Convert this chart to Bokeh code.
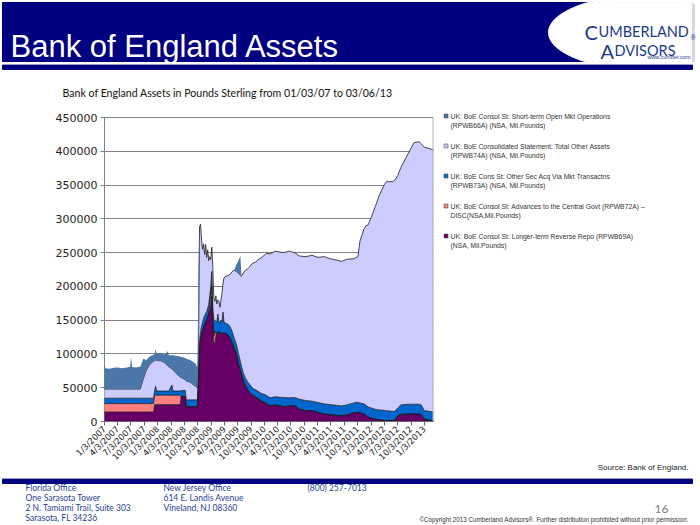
import math
import numpy as np
import pandas as pd
from bokeh.plotting import figure
from bokeh.layouts import column, row
from bokeh.models import ColumnDataSource, FixedTicker, BasicTickFormatter, Range1d
from bokeh.core.properties import value
from bokeh.embed import file_html
from bokeh.resources import INLINE

# ---------------- data (GBP millions) ----------------
dates = [
    "2007-01-03", "2007-01-10", "2007-02-07", "2007-03-07", "2007-04-04", "2007-05-02",
    "2007-06-06", "2007-06-27", "2007-07-04", "2007-07-11", "2007-08-08", "2007-09-05",
    "2007-09-26", "2007-10-17", "2007-11-07", "2007-11-28", "2007-12-05", "2007-12-12",
    "2007-12-19", "2007-12-27", "2008-01-23", "2008-02-20", "2008-03-12", "2008-03-19",
    "2008-04-09", "2008-04-16", "2008-05-14", "2008-06-04", "2008-06-11", "2008-07-09",
    "2008-07-16", "2008-08-13", "2008-09-17", "2008-10-01", "2008-10-08", "2008-10-15",
    "2008-10-22", "2008-10-29", "2008-11-05", "2008-11-12", "2008-11-19", "2008-11-26",
    "2008-12-03", "2008-12-10", "2008-12-17", "2008-12-24", "2008-12-31", "2009-01-07",
    "2009-01-14", "2009-01-21", "2009-01-28", "2009-02-04", "2009-02-11", "2009-02-18",
    "2009-02-25", "2009-03-04", "2009-03-11", "2009-03-18", "2009-03-25", "2009-04-01",
    "2009-04-15", "2009-04-29", "2009-05-13", "2009-05-27", "2009-06-10", "2009-06-24",
    "2009-07-08", "2009-07-22", "2009-07-29", "2009-08-12", "2009-08-26", "2009-09-09",
    "2009-09-23", "2009-10-07", "2009-10-21", "2009-11-04", "2009-11-18", "2009-12-02",
    "2009-12-16", "2010-01-06", "2010-01-20", "2010-02-10", "2010-03-17", "2010-05-12",
    "2010-06-23", "2010-07-28", "2010-09-01", "2010-10-13", "2010-11-24", "2011-01-05",
    "2011-02-16", "2011-03-30", "2011-05-11", "2011-06-15", "2011-07-20", "2011-09-07",
    "2011-10-05", "2011-10-19", "2011-11-16", "2011-11-30", "2011-12-14", "2012-01-04",
    "2012-02-01", "2012-02-29", "2012-04-04", "2012-04-18", "2012-05-30", "2012-06-13",
    "2012-07-04", "2012-07-25", "2012-09-12", "2012-10-24", "2012-11-28", "2012-12-12",
    "2013-01-02", "2013-02-06", "2013-03-06",
]

# UK: BoE Consol St: Longer-term Reverse Repo (RPWB69A)
longer_term_repo = [
    14000, 14000, 14000, 14000, 14000, 14000, 14000, 14000, 14000, 14000, 14000, 14000,
    14000, 14000, 14000, 14000, 14000, 25000, 25000, 25000, 25000, 25000, 25000, 25000,
    25000, 25000, 25000, 25000, 37000, 37000, 22000, 22000, 22000, 22000, 60000, 105000,
    120000, 128000, 134000, 140000, 144000, 147000, 150000, 155000, 160000, 165000, 172000, 185000,
    150000, 118000, 114000, 126000, 132000, 130000, 133000, 132000, 131000, 130000, 130000, 131000,
    130000, 128000, 123000, 117000, 108000, 100000, 86000, 75000, 70000, 60000, 53000, 47000,
    43000, 40000, 38000, 36000, 34000, 32000, 30000, 28000, 26000, 23000, 24500, 22000,
    23000, 23500, 18000, 16000, 16000, 13500, 11000, 10000, 9000, 8500, 9500, 13000,
    13500, 13000, 11000, 9000, 6500, 5000, 3500, 2500, 1500, 1000, 1500, 2000,
    8000, 10500, 11000, 11000, 11000, 10000, 3500, 2000, 1000,
]

# UK: BoE Consol St: Advances to the Central Govt (RPWB72A)
advances_govt = [
    12500, 12500, 12500, 12500, 12500, 12500, 12500, 12500, 12500, 12500, 12500, 12500,
    12500, 12500, 12500, 12500, 12500, 14000, 14000, 14000, 14000, 14000, 14000, 14000,
    14000, 14000, 14000, 14000, 0, 0, 0, 0, 0, 0, 0, 0,
    0, 0, 0, 0, 0, 0, 0, 0, 0, 8000, 14000, 15000,
    0, 8000, 20000, 4000, 0, 0, 0, 0, 0, 0, 0, 0,
    0, 0, 0, 0, 0, 0, 0, 0, 0, 0, 0, 0,
    0, 0, 0, 0, 0, 0, 0, 0, 0, 0, 0, 0,
    0, 0, 0, 0, 0, 0, 0, 0, 0, 0, 0, 0,
    0, 0, 0, 0, 0, 0, 0, 0, 0, 0, 0, 0,
    0, 0, 0, 0, 0, 0, 0, 0, 0,
]

# UK: BoE Cons St: Other Sec Acq Via Mkt Transactns (RPWB73A)
other_securities = [
    8000, 8000, 8000, 8000, 8000, 8000, 8000, 8000, 8000, 8000, 8000, 8000,
    8000, 8000, 8000, 8000, 8000, 6000, 13000, 6000, 6000, 6000, 6000, 6000,
    15000, 6000, 6000, 6000, 9000, 9000, 10000, 10000, 10000, 10000, 10000, 13000,
    12000, 13000, 13000, 13000, 13000, 13000, 13000, 13000, 13000, 13000, 14000, 22000,
    18000, 24000, 16000, 18000, 16000, 29000, 14000, 14000, 19000, 18000, 32000, 16000,
    15000, 16000, 17000, 16000, 15000, 15000, 15000, 14000, 12000, 11000, 11000, 12000,
    12000, 11000, 10000, 11000, 11000, 11000, 11000, 12000, 12000, 12000, 12000, 13500,
    12000, 12000, 15000, 15000, 14000, 14500, 15000, 15000, 15000, 14500, 15000, 14500,
    15000, 14500, 15000, 15000, 15000, 15000, 14500, 14500, 15000, 15000, 13500, 13000,
    12000, 14000, 14500, 14500, 14500, 14500, 12500, 13000, 13000,
]

# UK: BoE Consolidated Statement: Total Other Assets (RPWB74A)
total_other_assets = [
    13500, 13500, 13500, 13500, 13500, 13500, 13500, 13500, 13500, 13500, 13500, 13500,
    28500, 41500, 49500, 53500, 54500, 45000, 39000, 45000, 45000, 42000, 37000, 36000,
    24000, 31000, 25000, 21000, 19000, 16000, 28000, 26000, 20000, 18000, 30000, 170000,
    160000, 127000, 108000, 110000, 90000, 102000, 80000, 86000, 65000, 58000, 40000, 36000,
    60000, 33000, 28000, 38000, 26000, 21000, 31000, 23000, 30000, 42000, 43000, 66000,
    70000, 72000, 78000, 89000, 101000, 107000, 119000, 127000, 133000, 149000, 160000, 167000,
    174000, 182000, 187000, 189000, 194000, 198000, 202000, 207000, 211000, 213000, 215500, 214500,
    217000, 214500, 212000, 213000, 216000, 215000, 218000, 216000, 215000, 214000, 215500, 213500,
    215500, 239500, 259000, 266000, 269500, 282000, 300000, 318000, 334500, 339000, 340000, 342000,
    344000, 351500, 370500, 387500, 388500, 386500, 390000, 389000, 388000,
]

# UK: BoE Consol St: Short-term Open Mkt Operations (RPWB66A)
short_term_omo = [
    35500, 31000, 30000, 31500, 32000, 31000, 32000, 33000, 47000, 32500, 32000, 33000,
    30000, 15000, 12000, 10000, 10000, 10000, 16000, 10000, 11000, 12000, 22000, 17000,
    20000, 22000, 27000, 30000, 31000, 32000, 33000, 33000, 34000, 30000, 130000, 0,
    0, 0, 0, 0, 0, 0, 0, 0, 0, 0, 0, 0,
    0, 0, 0, 0, 0, 0, 0, 0, 0, 0, 0, 0,
    0, 0, 0, 0, 0, 10000, 18000, 29000, 0, 0, 0, 0,
    0, 0, 0, 0, 0, 0, 0, 0, 0, 0, 0, 0,
    0, 0, 0, 0, 0, 0, 0, 0, 0, 0, 0, 0,
    0, 0, 0, 0, 0, 0, 0, 0, 0, 0, 0, 0,
    0, 0, 0, 0, 0, 0, 0, 0, 0,
]

series_names = [
    ["UK: BoE Consol St: Short-term Open Mkt Operations", "(RPWB66A) (NSA, Mil.Pounds)"],
    ["UK: BoE Consolidated Statement: Total Other Assets", "(RPWB74A) (NSA, Mil.Pounds)"],
    ["UK: BoE Cons St: Other Sec Acq Via Mkt Transactns", "(RPWB73A) (NSA, Mil.Pounds)"],
    ["UK: BoE Consol St: Advances to the Central Govt (RPWB72A) \u2013", "DISC(NSA,Mil.Pounds)"],
    ["UK: BoE Consol St: Longer-term Reverse Repo (RPWB69A)", "(NSA, Mil.Pounds)"],
]
series_colors = ["#4A76A8", "#CCCCFF", "#0066CC", "#FF8080", "#660066"]

x_tick_labels = [
    "1/3/2007", "4/3/2007", "7/3/2007", "10/3/2007", "1/3/2008", "4/3/2008", "7/3/2008",
    "10/3/2008", "1/3/2009", "4/3/2009", "7/3/2009", "10/3/2009", "1/3/2010", "4/3/2010",
    "7/3/2010", "10/3/2010", "1/3/2011", "4/3/2011", "7/3/2011", "10/3/2011", "1/3/2012",
    "4/3/2012", "7/3/2012", "10/3/2012", "1/3/2013",
]
y_ticks = [0, 50000, 100000, 150000, 200000, 250000, 300000, 350000, 400000, 450000]
Y_MAX = 450000

NAVY = "#000080"
FOOT_FONT = "Lato"

# page geometry (pixels)
ROW_TOP, ROW_H = 100, 375
FRAME_TOP, FRAME_BOTTOM = 109, 475     # chart frame spans this vertically
Y450_PX, Y0_PX = 117, 421              # page y of the 450000 and 0 lines
X0_PX, X1_PX = 104, 433                # page x of the first and last date
START, END = pd.Timestamp("2007-01-03"), pd.Timestamp("2013-03-06")


def blank(w, h, x0, x1, y0, y1, **kw):
    """A figure with no axes whose data units are page pixels (y grows downward)."""
    f = figure(width=w, height=h, output_backend="svg", toolbar_location=None,
               x_range=Range1d(x0, x1), y_range=Range1d(y1, y0),
               x_axis_location=None, y_axis_location=None, **kw)
    f.grid.visible = False
    f.outline_line_color = None
    f.background_fill_color = "white"
    f.border_fill_color = "white"
    return f


def txt(f, x, y, s, size, color, font="Liberation Sans", align="left", baseline="middle", style="normal"):
    f.text(x=[x], y=[y], text=[s], text_font=value(font), text_font_size=value(f"{size}px"),
           text_color=color, text_align=align, text_baseline=baseline, text_font_style=style)


# ---------------- header (page y 0..100) ----------------
hd = blank(700, ROW_TOP, 0, 700, 0, ROW_TOP, min_border=0)
hd.quad(left=[2], right=[692], top=[2], bottom=[61], color=NAVY)
t = np.linspace(0, 2 * np.pi, 160)
hd.patch(list(np.clip(650 + 102 * np.cos(t), 0, 692)), list(np.clip(32 + 38 * np.sin(t), 2, 61)),
         color="white")
hd.quad(left=[692], right=[694], top=[4], bottom=[61], color="#D8D8E0")
hd.quad(left=[2], right=[692], top=[64], bottom=[65], color="#9A9AC8")
hd.quad(left=[2], right=[692], top=[65], bottom=[69], color=NAVY)
txt(hd, 10, 46, "Bank of England Assets", 31, "white", baseline="alphabetic")
logo_c = "#1B3A8A"
txt(hd, 584, 31, "C", 20, logo_c, font="Lato", baseline="alphabetic")
txt(hd, 598, 31, "UMBERLAND", 14.5, logo_c, font="Lato", baseline="alphabetic")
txt(hd, 600, 50, "A", 20, logo_c, font="Lato", baseline="alphabetic")
txt(hd, 614, 50, "DVISORS", 14.5, logo_c, font="Lato", baseline="alphabetic")
txt(hd, 690, 37, "\u00ae", 7, logo_c)
txt(hd, 690, 56, "www.cumber.com", 5.5, logo_c, align="right")
txt(hd, 62, 92, "Bank of England Assets in Pounds Sterling from 01/03/07 to 03/06/13", 10.6, "#111111", font="Lato")

# ---------------- chart (page x 0..440, y 100..475) ----------------
src = ColumnDataSource(dict(
    date=pd.to_datetime(dates),
    ltrr=longer_term_repo, adv=advances_govt, osec=other_securities,
    toa=total_other_assets, omo=short_term_omo,
))

start_ms = START.timestamp() * 1000
end_ms = END.timestamp() * 1000
ms_per_px = (end_ms - start_ms) / (X1_PX - X0_PX)
x_left = start_ms - X0_PX * ms_per_px          # frame starts at page x 0

units_per_px = Y_MAX / (Y0_PX - Y450_PX)
y_top = Y_MAX + (Y450_PX - FRAME_TOP) * units_per_px
y_bottom = -(FRAME_BOTTOM - Y0_PX) * units_per_px

p = figure(width=440, height=ROW_H, x_axis_type="datetime", output_backend="svg",
           toolbar_location=None,
           x_range=Range1d(x_left, end_ms), y_range=Range1d(y_bottom, y_top),
           min_border_left=0, min_border_right=440 - X1_PX,
           min_border_top=FRAME_TOP - ROW_TOP, min_border_bottom=ROW_TOP + ROW_H - FRAME_BOTTOM)
p.background_fill_color = "white"
p.border_fill_color = "white"
p.outline_line_color = None

stackers = ["ltrr", "adv", "osec", "toa", "omo"]
stack_colors = ["#660066", "#FF8080", "#0066CC", "#CCCCFF", "#4A76A8"]
areas = p.varea_stack(stackers, x="date", color=stack_colors, source=src)
lines = p.vline_stack(stackers[:4], x="date", color="#1A1A1A", line_width=0.8, source=src)
border = p.segment(x0=[END], y0=[0], x1=[END], y1=[Y_MAX], line_color="#B0B0B0", line_width=2)
p.renderers = list(areas[:4]) + list(lines) + [areas[4], border]

tick_ms = [int(pd.Timestamp(pd.to_datetime(s, format="%m/%d/%Y")).timestamp() * 1000) for s in x_tick_labels]
xa = p.xaxis[0]
xa.fixed_location = 0
xa.bounds = (start_ms, end_ms)
xa.ticker = FixedTicker(ticks=tick_ms)
xa.major_label_overrides = {ms: lab for ms, lab in zip(tick_ms, x_tick_labels)}
xa.major_label_orientation = math.pi / 4
xa.major_label_text_font = "DejaVu Sans"
xa.major_label_text_font_size = "8.5px"
xa.major_label_text_color = "#222222"
xa.major_tick_in = 0
xa.major_tick_out = 4
xa.minor_tick_line_color = None
xa.axis_line_color = "#666666"
xa.major_tick_line_color = "#666666"
xa.major_label_standoff = 2

# y axis sits at the first date; its inward ticks span the plot as the horizontal gridlines
ya = p.yaxis[0]
ya.fixed_location = start_ms
ya.bounds = (0, Y_MAX)
ya.level = "underlay"
ya.ticker = FixedTicker(ticks=y_ticks)
ya.formatter = BasicTickFormatter(use_scientific=False)
ya.major_label_text_font = "DejaVu Sans"
ya.major_label_text_font_size = "11px"
ya.major_label_text_color = "#222222"
ya.major_tick_in = X1_PX - X0_PX
ya.major_tick_out = 4
ya.minor_tick_line_color = None
ya.axis_line_color = "#808080"
ya.major_tick_line_color = "#808080"
ya.major_label_standoff = 3

p.xgrid.visible = False
p.ygrid.visible = False

# ---------------- legend (page x 440..700; frame = page y 109..475) ----------------
lg = blank(260, ROW_H, 440, 700, FRAME_TOP, FRAME_BOTTOM,
           min_border_left=0, min_border_right=0,
           min_border_top=FRAME_TOP - ROW_TOP, min_border_bottom=ROW_TOP + ROW_H - FRAME_BOTTOM)
for i, (nm, col) in enumerate(zip(series_names, series_colors)):
    y0 = 116 + i * 30
    lg.quad(left=[443.5], right=[447.5], top=[y0 - 2.5], bottom=[y0 + 1.5], fill_color=col,
            line_color="#555555", line_width=0.6)
    txt(lg, 450, y0, nm[0], 6.8, "#333333")
    txt(lg, 450, y0 + 8.5, nm[1], 6.8, "#333333")
txt(lg, 688, 467, "Source: Bank of England.", 8, "#222222", align="right")

# ---------------- footer (page y 475..525) ----------------
FT_TOP = ROW_TOP + ROW_H
ft = blank(700, 525 - FT_TOP, 0, 700, FT_TOP, 525, min_border=0)
ft.quad(left=[2], right=[692], top=[478], bottom=[479], color="#9A9AC8")
ft.quad(left=[2], right=[692], top=[479], bottom=[483], color=NAVY)
fc = "#1F3F8F"
for j, s in enumerate(["Florida Office", "One Sarasota Tower", "2 N. Tamiami Trail, Suite 303", "Sarasota, FL 34236"]):
    txt(ft, 25, 487 + j * 10.2, s, 8.5, fc, font=FOOT_FONT)
for j, s in enumerate(["New Jersey Office", "614 E. Landis Avenue", "Vineland, NJ 08360"]):
    txt(ft, 163, 487 + j * 10.2, s, 8.5, fc, font=FOOT_FONT)
txt(ft, 307, 487, "(800) 257-7013", 8.5, fc, font=FOOT_FONT)
txt(ft, 668, 508, "16", 12, "#7F7F7F", font="Lato", align="right")
txt(ft, 690, 519, "\u00a9Copyright 2013 Cumberland Advisors\u00ae.  Further distribution prohibited without prior permission.",
    6.3, "#333333", align="right")

layout = column(hd, row(p, lg), ft)
open("out.html", "w").write(file_html(layout, INLINE))
